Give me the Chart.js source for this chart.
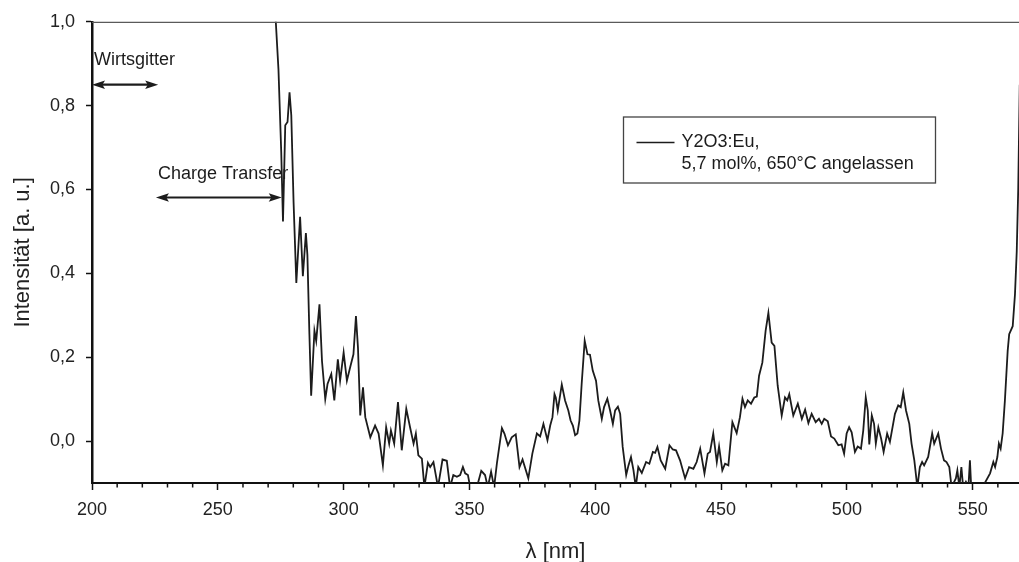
<!DOCTYPE html>
<html>
<head>
<meta charset="utf-8">
<script src="https://cdn.jsdelivr.net/npm/chart.js@4.4.1/dist/chart.umd.min.js"></script>
<style>
  html, body { margin: 0; padding: 0; background: #ffffff; }
  #wrap { width: 1019px; height: 562px; }
</style>
</head>
<body>
<div id="wrap"><canvas id="c" width="1019" height="562"></canvas></div>
<script>
// Excitation spectrum of Y2O3:Eu (5,7 mol%, annealed at 650 °C)
const wavelength = [
  272.3, 274.1, 275.2, 275.9, 276.8, 277.7, 278.5, 279.2, 280.1, 281.2,
  282.7, 283.8, 285.0, 285.6, 286.4, 287.1, 288.4, 289.1, 290.4, 291.4,
  292.7, 293.6, 295.1, 296.3, 297.7, 298.6, 300.0, 301.3, 302.6, 303.9,
  304.9, 305.7, 306.6, 307.7, 308.6, 310.6, 312.5, 313.9, 315.6, 316.9,
  318.1, 318.8, 320.1, 321.6, 323.1, 324.9, 326.4, 327.8, 328.7, 329.7,
  331.1, 332.1, 333.5, 334.4, 335.7, 337.5, 339.3, 341.0, 342.3, 343.6,
  345.0, 346.3, 347.4, 348.3, 349.4, 350.3, 352.5, 354.7, 356.2, 357.3,
  358.6, 359.8, 360.9, 362.9, 363.9, 365.3, 366.8, 368.4, 369.9, 371.1,
  373.4, 375.0, 376.8, 378.1, 379.4, 381.0, 382.1, 383.0, 383.8, 384.3,
  385.1, 386.7, 388.0, 389.3, 390.2, 391.1, 392.0, 392.9, 393.7, 394.6,
  395.8, 396.9, 397.9, 399.0, 400.3, 401.2, 402.6, 403.5, 404.8, 405.9,
  407.0, 407.9, 409.0, 409.9, 410.9, 412.3, 413.2, 414.2, 415.2, 416.1,
  417.1, 418.5, 420.2, 421.5, 422.9, 423.8, 424.7, 426.0, 427.8, 429.5,
  430.8, 432.1, 433.7, 435.7, 437.3, 439.0, 440.3, 441.7, 443.4, 444.7,
  445.6, 446.9, 448.3, 449.2, 450.5, 451.6, 452.9, 454.5, 456.2, 457.5,
  458.5, 459.5, 460.6, 461.9, 463.2, 464.2, 465.1, 466.4, 467.7, 468.8,
  470.1, 471.2, 472.5, 474.1, 475.4, 476.3, 477.1, 478.7, 480.5, 482.1,
  483.4, 484.7, 486.0, 487.6, 488.9, 490.0, 491.0, 492.4, 493.7, 495.0,
  496.6, 497.9, 498.9, 499.9, 500.9, 501.9, 503.2, 504.3, 505.6, 506.5,
  507.5, 508.3, 508.9, 509.9, 510.8, 511.5, 512.5, 513.6, 514.6, 516.0,
  517.1, 519.1, 520.4, 521.4, 522.4, 523.5, 524.8, 525.7, 526.8, 528.0,
  529.0, 529.9, 530.7, 532.3, 533.9, 534.7, 536.3, 537.4, 538.6, 539.6,
  540.7, 541.6, 543.3, 543.9, 544.7, 545.5, 546.2, 547.3, 548.3, 548.9,
  549.4, 553.0, 556.9, 558.2, 558.9, 559.8, 560.4, 561.1, 561.9, 562.8,
  563.9, 564.5, 565.9, 566.8, 567.5, 568.1, 568.7, 569.2
];
const intensity = [
  1.08, 0.887, 0.690, 0.524, 0.753, 0.761, 0.832, 0.777, 0.571, 0.377,
  0.535, 0.393, 0.496, 0.444, 0.255, 0.108, 0.263, 0.239, 0.326, 0.191,
  0.100, 0.136, 0.160, 0.097, 0.195, 0.144, 0.211, 0.144, 0.176, 0.207,
  0.298, 0.223, 0.061, 0.128, 0.057, 0.009, 0.037, 0.018, -0.058, 0.033,
  -0.006, 0.025, -0.006, 0.093, -0.022, 0.077, 0.033, -0.006, 0.018, -0.034,
  -0.042, -0.110, -0.052, -0.062, -0.050, -0.110, -0.044, -0.047, -0.110, -0.081,
  -0.085, -0.081, -0.062, -0.077, -0.081, -0.110, -0.120, -0.071, -0.081, -0.110,
  -0.073, -0.110, -0.054, 0.031, 0.018, -0.010, 0.009, 0.016, -0.062, -0.044,
  -0.089, -0.030, 0.018, 0.011, 0.041, 0.002, 0.037, 0.057, 0.112, 0.104,
  0.073, 0.135, 0.097, 0.073, 0.049, 0.037, 0.014, 0.018, 0.049, 0.136,
  0.239, 0.207, 0.206, 0.168, 0.144, 0.097, 0.053, 0.081, 0.101, 0.073,
  0.041, 0.073, 0.082, 0.065, -0.014, -0.081, -0.058, -0.038, -0.070, -0.110,
  -0.062, -0.076, -0.050, -0.054, -0.026, -0.028, -0.014, -0.046, -0.066, -0.010,
  -0.020, -0.022, -0.046, -0.089, -0.062, -0.066, -0.050, -0.018, -0.077, -0.030,
  -0.026, 0.018, -0.050, -0.013, -0.070, -0.054, -0.058, 0.045, 0.019, 0.057,
  0.101, 0.081, 0.097, 0.089, 0.104, 0.106, 0.156, 0.187, 0.263, 0.306,
  0.235, 0.227, 0.132, 0.061, 0.104, 0.097, 0.112, 0.061, 0.089, 0.053,
  0.075, 0.043, 0.065, 0.045, 0.053, 0.041, 0.053, 0.047, 0.011, 0.006,
  -0.010, -0.008, -0.030, 0.018, 0.033, 0.021, -0.026, -0.013, -0.018, 0.025,
  0.104, 0.073, -0.008, 0.061, 0.041, -0.006, 0.033, 0.006, -0.026, 0.018,
  -0.002, 0.065, 0.085, 0.081, 0.116, 0.073, 0.041, -0.006, -0.046, -0.110,
  -0.062, -0.050, -0.058, -0.038, 0.018, -0.006, 0.018, -0.018, -0.046, -0.050,
  -0.062, -0.110, -0.089, -0.070, -0.110, -0.062, -0.110, -0.097, -0.110, -0.046,
  -0.110, -0.120, -0.077, -0.050, -0.062, -0.038, -0.006, -0.018, 0.018, 0.097,
  0.215, 0.255, 0.274, 0.350, 0.452, 0.603, 0.850, 1.050
];

// Axis ticks
const xTickValues = [200, 250, 300, 350, 400, 450, 500, 550];
const xMinorStep = 10;
const yTickValues = [0.0, 0.2, 0.4, 0.6, 0.8, 1.0];
const xRange = [200, 568.4];
const yRange = [-0.1, 1.0];

// Legend entry and range annotations
const seriesLabel = ['Y2O3:Eu,', '5,7 mol%, 650°C angelassen'];
const rangeNames = ['Wirtsgitter', 'Charge Transfer'];
const rangeStart = [200.0, 225.4];
const rangeEnd = [226.3, 275.4];
const rangeLevel = [0.850, 0.581];
const rangeTextLevel = [0.910, 0.638];

const FONT = "'Liberation Sans', Arial, Helvetica, sans-serif";
const INK = '#1c1c1c';

function drawArrowHead(ctx, x, y, dir) {
  const len = 13, half = 4.2;
  ctx.beginPath();
  ctx.moveTo(x, y);
  ctx.lineTo(x - dir * len, y - half);
  ctx.lineTo(x - dir * len * 0.8, y);
  ctx.lineTo(x - dir * len, y + half);
  ctx.closePath();
  ctx.fill();
}

const decorations = {
  id: 'decorations',
  afterDraw(chart) {
    const { ctx, chartArea: area, scales: { x, y } } = chart;
    ctx.save();

    // thin frame line along the top of the plot
    ctx.strokeStyle = '#5a5a5a';
    ctx.lineWidth = 1.2;
    ctx.beginPath();
    ctx.moveTo(area.left, area.top + 0.5);
    ctx.lineTo(area.right, area.top + 0.5);
    ctx.stroke();

    // minor ticks on the wavelength axis
    ctx.strokeStyle = '#111';
    ctx.lineWidth = 1.5;
    for (let v = xRange[0]; v <= xRange[1]; v += xMinorStep) {
      if (v % 50 === 0) continue;
      const px = x.getPixelForValue(v);
      ctx.beginPath();
      ctx.moveTo(px, area.bottom);
      ctx.lineTo(px, area.bottom + 4.5);
      ctx.stroke();
    }

    // range annotations with double-headed arrows
    ctx.fillStyle = INK;
    ctx.strokeStyle = INK;
    ctx.font = '18px ' + FONT;
    ctx.textBaseline = 'middle';
    ctx.textAlign = 'left';
    for (let i = 0; i < rangeNames.length; i++) {
      const x0 = x.getPixelForValue(rangeStart[i]);
      const x1 = x.getPixelForValue(rangeEnd[i]);
      const py = y.getPixelForValue(rangeLevel[i]);
      ctx.lineWidth = 2.2;
      ctx.beginPath();
      ctx.moveTo(x0 + 6, py);
      ctx.lineTo(x1 - 6, py);
      ctx.stroke();
      drawArrowHead(ctx, x0, py, -1);
      drawArrowHead(ctx, x1, py, 1);
      ctx.fillText(rangeNames[i], x0 + 2, y.getPixelForValue(rangeTextLevel[i]));
    }

    // legend box
    const lx = 623.5, ly = 117, lw = 312, lh = 66;
    ctx.strokeStyle = '#444';
    ctx.lineWidth = 1.3;
    ctx.strokeRect(lx, ly, lw, lh);
    ctx.strokeStyle = INK;
    ctx.lineWidth = 1.4;
    ctx.beginPath();
    ctx.moveTo(lx + 13, ly + 25.5);
    ctx.lineTo(lx + 51, ly + 25.5);
    ctx.stroke();
    ctx.fillStyle = INK;
    ctx.font = '18px ' + FONT;
    ctx.fillText(seriesLabel[0], lx + 58, ly + 25);
    ctx.fillText(seriesLabel[1], lx + 58, ly + 47);

    ctx.restore();
  }
};

const points = wavelength.map((w, i) => ({ x: w, y: intensity[i] }));

new Chart(document.getElementById('c'), {
  type: 'line',
  data: {
    datasets: [{
      label: seriesLabel.join(' '),
      data: points,
      borderColor: INK,
      borderWidth: 1.8,
      pointRadius: 0,
      tension: 0,
      clip: 0
    }]
  },
  options: {
    responsive: false,
    animation: false,
    devicePixelRatio: 1,
    layout: { padding: { top: 19, left: 0, right: 0, bottom: 0 } },
    plugins: { legend: { display: false }, tooltip: { enabled: false } },
    scales: {
      x: {
        type: 'linear',
        min: xRange[0],
        max: xRange[1],
        afterBuildTicks: s => { s.ticks = xTickValues.map(v => ({ value: v })); },
        afterFit: s => { s.height = 79; },
        grid: { drawOnChartArea: false, tickLength: 7, tickColor: '#111', tickWidth: 1.5 },
        border: { color: '#111', width: 2 },
        ticks: {
          color: '#222', padding: 9, maxRotation: 0, autoSkip: false,
          font: { family: FONT, size: 18 },
          callback: v => String(v)
        },
        title: {
          display: true, text: 'λ [nm]', color: '#222',
          font: { family: FONT, size: 22 }, padding: { top: 0, bottom: -3.5 }
        }
      },
      y: {
        type: 'linear',
        min: yRange[0],
        max: yRange[1],
        afterBuildTicks: s => { s.ticks = yTickValues.map(v => ({ value: v })); },
        afterFit: s => { s.width = 92; },
        grid: { drawOnChartArea: false, tickLength: 6, tickColor: '#111', tickWidth: 1.5 },
        border: { color: '#111', width: 2.5 },
        ticks: {
          color: '#222', padding: 11, autoSkip: false,
          font: { family: FONT, size: 18 },
          callback: v => Number(v).toFixed(1).replace('.', ',')
        },
        title: {
          display: true, text: 'Intensität [a. u.]', color: '#222',
          font: { family: FONT, size: 22 }, padding: { top: 10, bottom: 0 }
        }
      }
    }
  },
  plugins: [decorations]
});
</script>
</body>
</html>
